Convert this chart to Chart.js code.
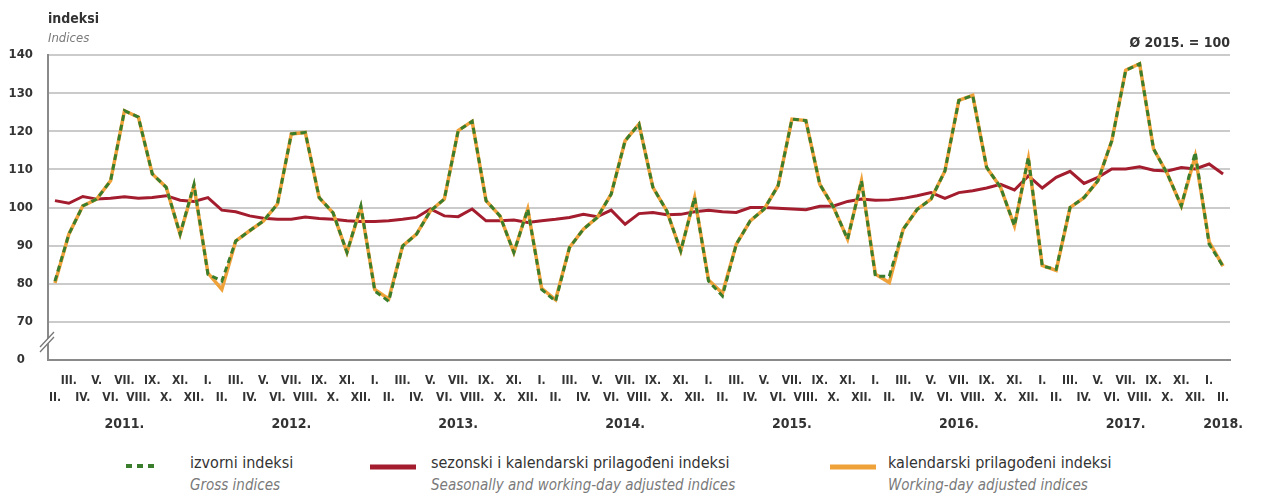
<!DOCTYPE html>
<html>
<head>
<meta charset="utf-8">
<script src="https://cdn.jsdelivr.net/npm/chart.js@4.4.1/dist/chart.umd.min.js"></script>
<style>
  body { margin: 0; background: #fff; font-family: "Liberation Sans Narrow", "DejaVu Sans Condensed", "Roboto", sans-serif; }
  #wrap { position: relative; width: 1261px; height: 497px; overflow: hidden; }
  #chart { position: absolute; left: 0; top: 0; }
  .txt { position: absolute; white-space: nowrap; color: #333; }
  .it { font-style: italic; color: #7a7a7a; }
  .legend-key { position: absolute; }
</style>
</head>
<body>
<div id="wrap">
  <canvas id="chart" width="1261" height="435"></canvas>

  <div class="txt" style="left:48px; top:10px; font-size:14px; font-weight:bold;">indeksi</div>
  <div class="txt it" style="left:48px; top:30px; font-size:13px;">Indices</div>
  <div class="txt" style="right:31px; top:34px; font-size:14px; font-weight:bold;">Ø 2015. = 100</div>

  <!-- legend -->
  <svg class="legend-key" style="left:124px; top:461px;" width="32" height="10">
    <line x1="2" y1="5" x2="30" y2="5" stroke="#3a7d2c" stroke-width="4" stroke-dasharray="6,5"/>
  </svg>
  <div class="txt" style="left:190px; top:453px; font-size:16px;">izvorni indeksi</div>
  <div class="txt it" style="left:190px; top:476px; font-size:15px;">Gross indices</div>

  <svg class="legend-key" style="left:368px; top:462px;" width="50" height="10">
    <line x1="2" y1="5" x2="48" y2="5" stroke="#a31d2e" stroke-width="5"/>
  </svg>
  <div class="txt" style="left:431px; top:453px; font-size:16px;">sezonski i kalendarski prilagođeni indeksi</div>
  <div class="txt it" style="left:431px; top:476px; font-size:15px;">Seasonally and working-day adjusted indices</div>

  <svg class="legend-key" style="left:828px; top:462px;" width="50" height="10">
    <line x1="2" y1="5" x2="48" y2="5" stroke="#f0a23a" stroke-width="5"/>
  </svg>
  <div class="txt" style="left:888px; top:453px; font-size:16px;">kalendarski prilagođeni indeksi</div>
  <div class="txt it" style="left:888px; top:476px; font-size:15px;">Working-day adjusted indices</div>
</div>

<script>
// Monthly periods: II. 2011 – II. 2018
const romanMonths = ['I.', 'II.', 'III.', 'IV.', 'V.', 'VI.', 'VII.', 'VIII.', 'IX.', 'X.', 'XI.', 'XII.'];
const startYear = 2011;
const startMonth = 1; // zero-based, II.
const periodCount = 85;

// Gross indices (izvorni indeksi)
const grossIndices = [
  80.7, 93.0, 100.4, 102.2, 107.0, 125.4, 123.7, 108.8, 105.3, 93.0, 106.1,
  82.5, 80.7, 91.2, 93.9, 96.5, 100.9, 119.3, 119.7, 102.6, 98.6, 88.2, 100.4,
  78.1, 75.4, 89.9, 93.0, 99.1, 102.2, 120.2, 122.6, 101.8, 97.8, 88.2, 99.6,
  78.5, 75.4, 89.5, 94.3, 97.4, 103.5, 117.5, 121.9, 105.3, 99.1, 88.6, 102.6,
  80.7, 76.8, 90.4, 96.5, 99.6, 105.7, 123.2, 122.8, 106.1, 100.0, 91.7, 107.0,
  82.0, 82.0, 94.3, 99.5, 102.2, 109.6, 128.1, 129.4, 110.5, 105.3, 95.2, 113.2,
  84.6, 83.8, 100.0, 102.6, 107.0, 117.5, 136.0, 137.7, 115.4, 108.8, 100.4, 114.5,
  90.4, 84.6
];

// Working-day adjusted indices (kalendarski prilagođeni indeksi)
const workingDayIndices = [
  80.2, 93.0, 100.4, 102.2, 107.0, 125.4, 123.7, 108.8, 105.3, 93.0, 105.6,
  82.8, 78.5, 91.2, 93.9, 96.5, 100.9, 119.3, 119.7, 102.6, 98.6, 88.2, 100.0,
  78.5, 76.0, 89.9, 93.0, 99.1, 102.2, 120.2, 122.6, 101.8, 97.8, 88.2, 99.6,
  78.8, 75.8, 89.5, 94.3, 97.4, 103.5, 117.5, 121.9, 105.3, 99.1, 88.6, 102.6,
  81.0, 77.5, 90.4, 96.5, 99.6, 105.7, 123.2, 122.8, 106.1, 100.0, 91.7, 107.0,
  82.5, 80.3, 94.3, 99.5, 102.2, 109.6, 128.1, 129.4, 110.5, 105.3, 95.2, 112.8,
  84.8, 83.5, 100.0, 102.6, 107.0, 117.5, 136.0, 137.7, 115.4, 108.8, 100.4, 113.5,
  91.0, 84.6
];

// Seasonally and working-day adjusted indices (sezonski i kalendarski prilagođeni indeksi)
const seasonalIndices = [
  101.8, 101.1, 102.9, 102.2, 102.4, 102.8, 102.4, 102.6, 103.1, 101.9, 101.6,
  102.6, 99.3, 98.9, 97.8, 97.2, 96.9, 96.9, 97.5, 97.1, 96.9, 96.5, 96.3,
  96.3, 96.5, 96.9, 97.4, 99.6, 97.8, 97.6, 99.6, 96.5, 96.5, 96.7, 96.1,
  96.5, 96.9, 97.4, 98.2, 97.6, 99.3, 95.6, 98.4, 98.7, 98.1, 98.2, 98.9,
  99.3, 98.9, 98.7, 100.0, 100.0, 99.8, 99.6, 99.4, 100.3, 100.4, 101.6, 102.2,
  101.9, 102.0, 102.4, 103.1, 103.9, 102.4, 103.9, 104.4, 105.1, 106.1, 104.6, 108.3,
  105.1, 107.9, 109.5, 106.3, 107.9, 110.1, 110.1, 110.7, 109.8, 109.6, 110.5, 110.1,
  111.4, 108.8
];

// Y ticks: the lowest tick stands for the broken axis and reads "0"
const yMin = 60;
const yMax = 140;
const yStep = 10;

// Build period list (month index + year) from the start period
const periods = [];
for (let i = 0; i < periodCount; i++) {
  const m = (startMonth + i) % 12;
  const y = startYear + Math.floor((startMonth + i) / 12);
  periods.push({ month: m, year: y });
}
const labels = periods.map((p) => `${romanMonths[p.month]} ${p.year}.`);

const tickFont = { family: '"Liberation Sans Narrow", "DejaVu Sans Condensed", sans-serif', size: 12, weight: 'bold' };

// Small "//" mark across the y axis between 0 and 70
const axisBreak = {
  id: 'axisBreak',
  afterDraw(chart) {
    const { ctx, chartArea, scales } = chart;
    const x = chartArea.left;
    const y = scales.y.getPixelForValue(65);
    ctx.save();
    ctx.fillStyle = '#fff';
    ctx.beginPath();
    ctx.moveTo(x - 7, y + 6);
    ctx.lineTo(x + 5, y - 8);
    ctx.lineTo(x + 5, y - 3);
    ctx.lineTo(x - 7, y + 11);
    ctx.closePath();
    ctx.fill();
    ctx.strokeStyle = '#777';
    ctx.lineWidth = 1.3;
    ctx.beginPath();
    ctx.moveTo(x - 8, y + 6);
    ctx.lineTo(x + 6, y - 9);
    ctx.moveTo(x - 8, y + 11);
    ctx.lineTo(x + 6, y - 4);
    ctx.stroke();
    ctx.restore();
  },
};

new Chart(document.getElementById('chart').getContext('2d'), {
  type: 'line',
  data: {
    labels,
    datasets: [
      {
        label: 'izvorni indeksi',
        data: grossIndices,
        borderColor: '#3a7d2c',
        borderWidth: 3,
        borderDash: [6, 4],
        pointRadius: 0,
        tension: 0,
      },
      {
        label: 'kalendarski prilagođeni indeksi',
        data: workingDayIndices,
        borderColor: '#f0a23a',
        borderWidth: 3.5,
        pointRadius: 0,
        tension: 0,
      },
      {
        label: 'sezonski i kalendarski prilagođeni indeksi',
        data: seasonalIndices,
        borderColor: '#a31d2e',
        borderWidth: 3,
        pointRadius: 0,
        tension: 0,
      },
    ],
  },
  options: {
    responsive: false,
    animation: false,
    devicePixelRatio: 1,
    layout: { padding: { left: 0, top: 55, right: 31, bottom: 0 } },
    plugins: {
      legend: { display: false },
      tooltip: { enabled: false },
    },
    scales: {
      x: {
        type: 'category',
        position: 'bottom',
        weight: 0,
        offset: true,
        grid: { display: false, drawTicks: false },
        border: { display: true, color: '#8a8a8a', width: 2 },
        afterFit: (s) => { s.height = 45; },
        ticks: {
          autoSkip: false,
          maxRotation: 0,
          padding: 12,
          color: '#333',
          font: { ...tickFont, lineHeight: 1.42 },
          callback: (v, i) => {
            const r = romanMonths[periods[i].month];
            return periods[i].month % 2 === 0 ? [r, ''] : ['', r];
          },
        },
      },
      x2: {
        type: 'category',
        position: 'bottom',
        weight: 1,
        offset: true,
        grid: { display: false, drawTicks: false },
        border: { display: false },
        afterFit: (s) => { s.height = 30; },
        ticks: {
          autoSkip: false,
          maxRotation: 0,
          padding: 11,
          color: '#333',
          font: { ...tickFont, size: 14 },
          callback: (v, i) => {
            const p = periods[i];
            return (p.month === 6 || i === periodCount - 1) ? `${p.year}.` : '';
          },
        },
      },
      y: {
        min: yMin,
        max: yMax,
        afterFit: (s) => { s.width = 48; },
        grid: { color: '#cbcbcb', lineWidth: 2, drawTicks: false },
        border: { display: true, color: '#8a8a8a', width: 2 },
        ticks: {
          stepSize: yStep,
          padding: 15,
          color: '#333',
          font: { ...tickFont, size: 13 },
          callback: (v) => (v === yMin ? '0\u2007' : v),
        },
      },
    },
  },
  plugins: [axisBreak],
});
</script>
</body>
</html>
